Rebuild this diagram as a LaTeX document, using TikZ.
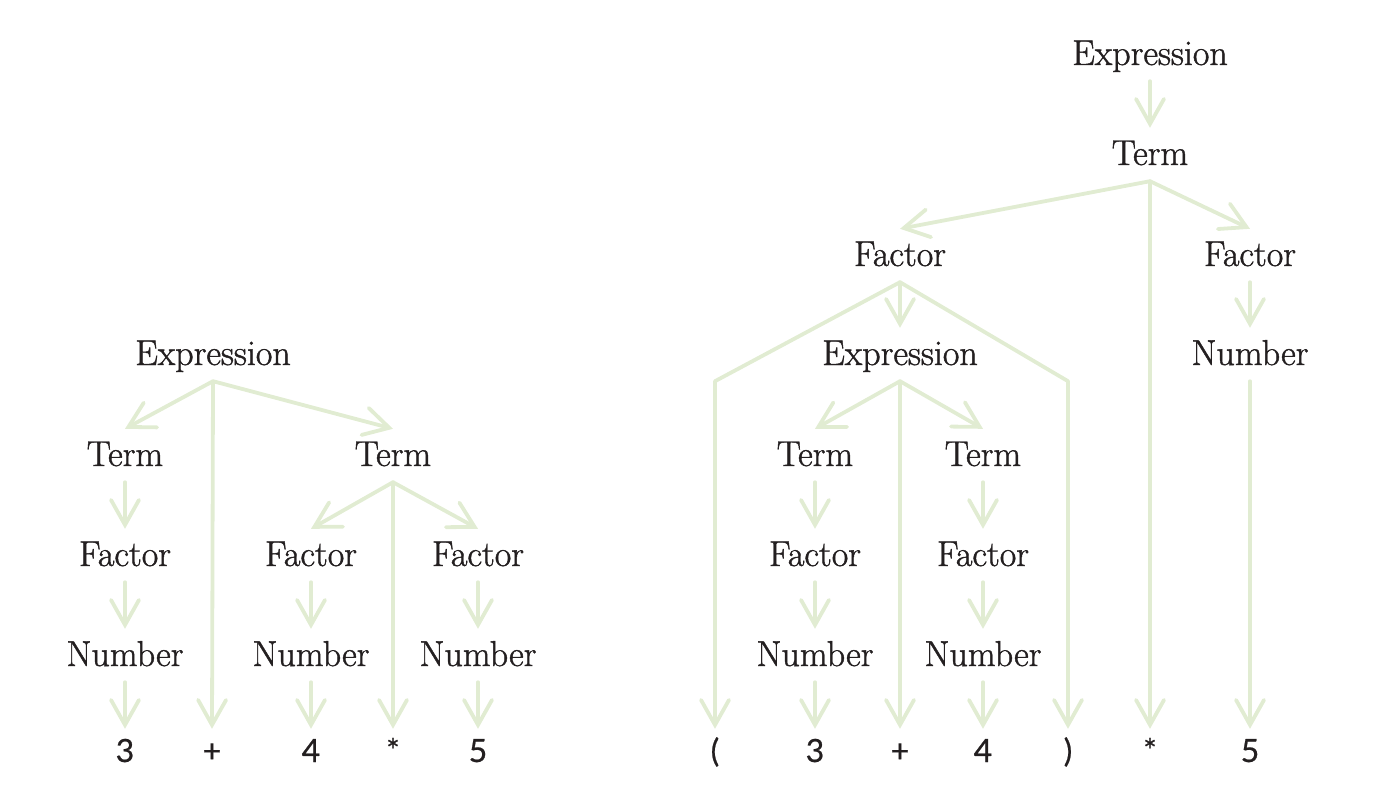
\documentclass[tikz,border=0pt]{standalone}
\usepackage{fontspec}
\usetikzlibrary{arrows.meta}
\newfontfamily\wordfont{Latin Modern Roman}[FakeBold=1.2]
\newfontfamily\leaffont{Lato}[FakeBold=0.6]
\definecolor{edge}{RGB}{225,236,210}
\definecolor{ink}{RGB}{35,31,32}
\begin{document}
\begin{tikzpicture}[x=1pt,y=-1pt,
  nt/.style={anchor=base, font=\wordfont\fontsize{36}{36}\selectfont, text=ink,
    text height=24pt, text depth=3pt, inner xsep=2pt, inner ysep=13pt},
  lf/.style={anchor=base, font=\leaffont\fontsize{32}{32}\selectfont, text=ink,
    text height=26pt, text depth=0pt, inner xsep=2pt, inner ysep=7pt},
  ed/.style={draw=edge, line width=3.8pt, line cap=round, line join=round,
    -{Straight Barb[length=25pt,width=28pt,line cap=round]}}]
\useasboundingbox (0,0) rectangle (1388,802);

% ---------- left tree ----------
\node[nt] (lE) at (213,365) {Expression};
\node[nt] (lT1) at (125,466) {Term};
\node[nt] (lT2) at (393,466) {Term};
\node[nt] (lF1) at (125,566) {Factor};
\node[nt] (lF2) at (311,566) {Factor};
\node[nt] (lF3) at (478,566) {Factor};
\node[nt] (lN1) at (125,666) {Number};
\node[nt] (lN2) at (311,666) {Number};
\node[nt] (lN3) at (478,666) {Number};
\node[lf] (l3) at (125,762) {3};
\node[lf] (lplus) at (212,762) {+};
\node[lf] (l4) at (311,762) {4};
\node[lf] (lstar) at (393,762) {*};
\node[lf] (l5) at (478,762) {5};

\draw[ed] (lE.south) -- (lT1.north);
\draw[ed] (lE.south) -- (lplus.north);
\draw[ed] (lE.south) -- (lT2.north);
\draw[ed] (lT1.south) -- (lF1.north);
\draw[ed] (lF1.south) -- (lN1.north);
\draw[ed] (lN1.south) -- (l3.north);
\draw[ed] (lT2.south) -- (lF2.north);
\draw[ed] (lT2.south) -- (lstar.north);
\draw[ed] (lT2.south) -- (lF3.north);
\draw[ed] (lF2.south) -- (lN2.north);
\draw[ed] (lN2.south) -- (l4.north);
\draw[ed] (lF3.south) -- (lN3.north);
\draw[ed] (lN3.south) -- (l5.north);

% ---------- right tree ----------
\node[nt] (rE0) at (1150,65) {Expression};
\node[nt] (rT0) at (1150,165) {Term};
\node[nt] (rF1) at (900,266) {Factor};
\node[nt] (rF2) at (1250,266) {Factor};
\node[nt] (rE1) at (900,365) {Expression};
\node[nt] (rN0) at (1250,365) {Number};
\node[nt] (rT1) at (815,466) {Term};
\node[nt] (rT2) at (983,466) {Term};
\node[nt] (rF3) at (815,566) {Factor};
\node[nt] (rF4) at (983,566) {Factor};
\node[nt] (rN1) at (815,666) {Number};
\node[nt] (rN2) at (983,666) {Number};
\node[lf] (rlp) at (715,762) {(};
\node[lf] (r3) at (815,762) {3};
\node[lf] (rplus) at (900,762) {+};
\node[lf] (r4) at (983,762) {4};
\node[lf] (rrp) at (1068,762) {)};
\node[lf] (rstar) at (1150,762) {*};
\node[lf] (r5) at (1250,762) {5};

\draw[ed] (rE0.south) -- (rT0.north);
\draw[ed] (rT0.south) -- (rF1.north);
\draw[ed] (rT0.south) -- (rstar.north);
\draw[ed] (rT0.south) -- (rF2.north);
\draw[ed] (rF1.south) -- (rlp.north |- rE1.south) -- (rlp.north);
\draw[ed] (rF1.south) -- (rE1.north);
\draw[ed] (rF1.south) -- (rrp.north |- rE1.south) -- (rrp.north);
\draw[ed] (rF2.south) -- (rN0.north);
\draw[ed] (rN0.south) -- (r5.north);
\draw[ed] (rE1.south) -- (rT1.north);
\draw[ed] (rE1.south) -- (rplus.north);
\draw[ed] (rE1.south) -- (rT2.north);
\draw[ed] (rT1.south) -- (rF3.north);
\draw[ed] (rF3.south) -- (rN1.north);
\draw[ed] (rN1.south) -- (r3.north);
\draw[ed] (rT2.south) -- (rF4.north);
\draw[ed] (rF4.south) -- (rN2.north);
\draw[ed] (rN2.south) -- (r4.north);
\end{tikzpicture}
\end{document}
